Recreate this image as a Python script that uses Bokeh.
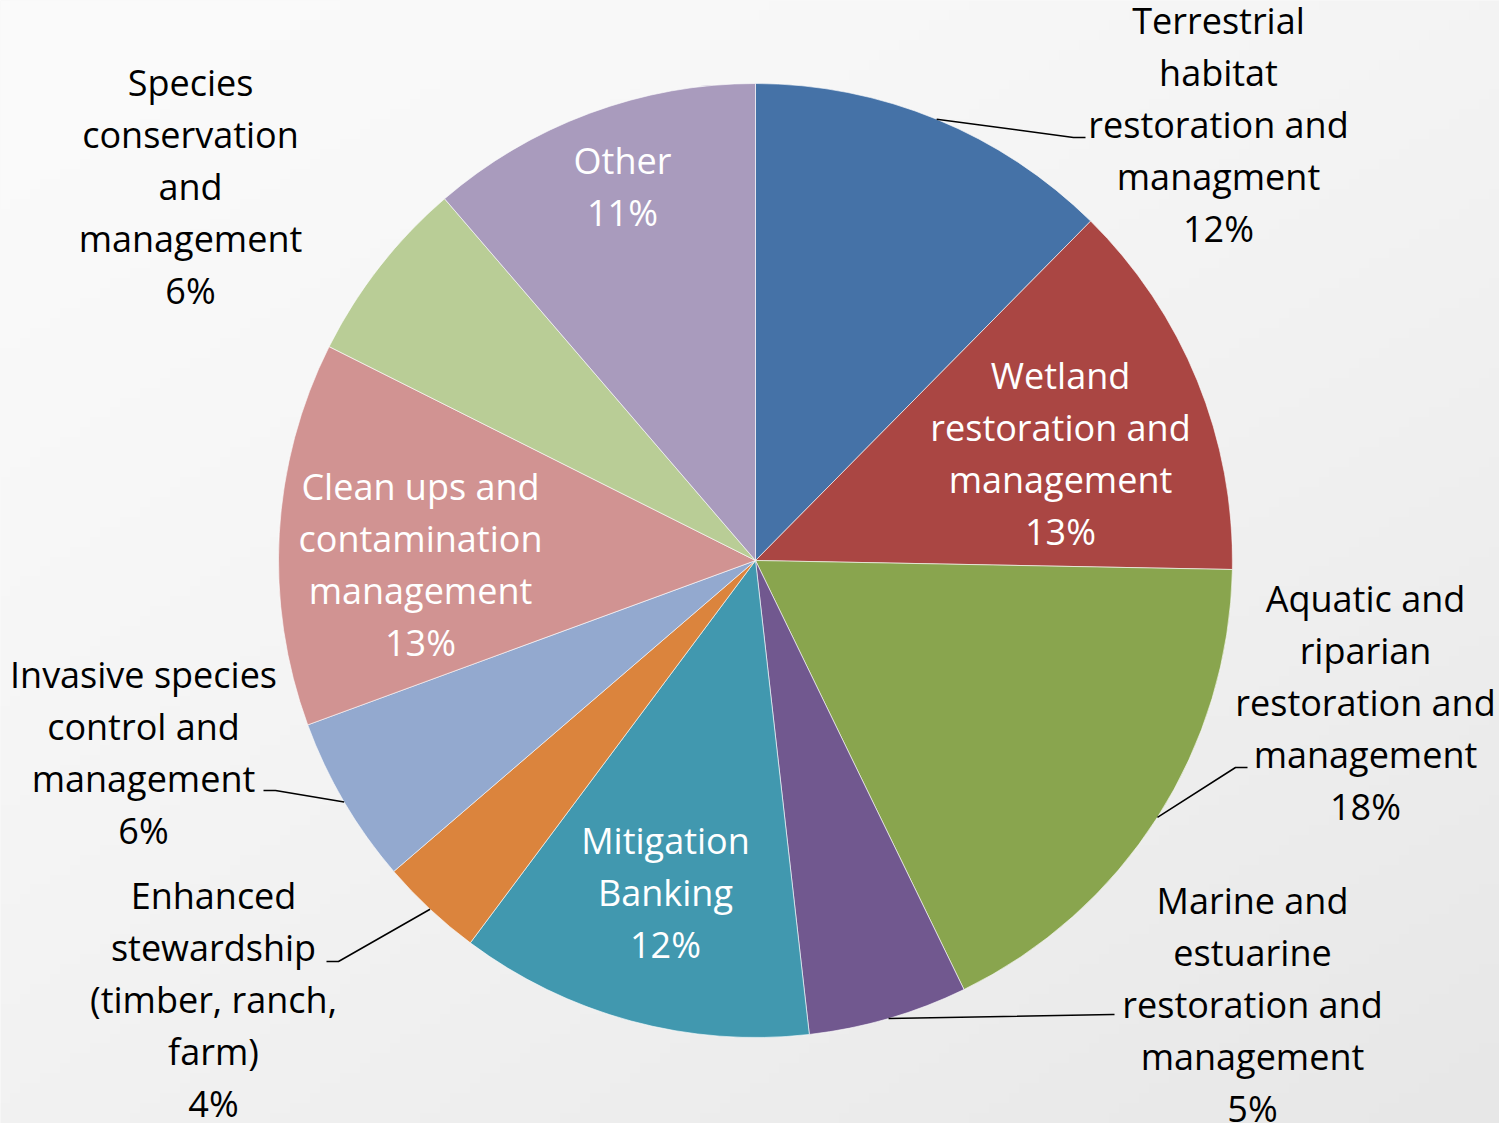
import numpy as np
from bokeh.plotting import figure
from bokeh.models import Range1d
from bokeh.embed import file_html
from bokeh.resources import INLINE
from bokeh.core.properties import value

# ---- data ----
categories = [
    "Terrestrial habitat restoration and managment",
    "Wetland restoration and management",
    "Aquatic and riparian restoration and management",
    "Marine and estuarine restoration and management",
    "Mitigation Banking",
    "Enhanced stewardship (timber, ranch, farm)",
    "Invasive species control and management",
    "Clean ups and contamination management",
    "Species conservation and management",
    "Other",
]
shares = [12.4, 12.9, 17.5, 5.4, 12.0, 3.5, 5.7, 13.0, 6.3, 11.3]
pct_labels = ["12%", "13%", "18%", "5%", "12%", "4%", "6%", "13%", "6%", "11%"]
label_lines = [
    ["Terrestrial", "habitat", "restoration and", "managment"],
    ["Wetland", "restoration and", "management"],
    ["Aquatic and", "riparian", "restoration and", "management"],
    ["Marine and", "estuarine", "restoration and", "management"],
    ["Mitigation", "Banking"],
    ["Enhanced", "stewardship", "(timber, ranch,", "farm)"],
    ["Invasive species", "control and", "management"],
    ["Clean ups and", "contamination", "management"],
    ["Species", "conservation", "and", "management"],
    ["Other"],
]

# ---- styles / layout ----
colors = ["#4572A7", "#AA4643", "#89A54E", "#71588F", "#4198AF",
          "#DB843D", "#93A9CF", "#D19392", "#B9CD96", "#A99BBD"]
inside = [False, True, False, False, True, False, False, True, False, True]
W, H = 1499, 1123
cx, cy, R = 755, H - 560, 477
LINE = 52.1
# label first-line centre (x, y in page pixels from top)
label_pos = [(1218, 20), (1060, 375), (1365, 598), (1252, 900), (665, 840),
             (213, 895), (143, 674), (420, 486), (190, 82), (622, 160)]
# leader elbow (x, y from top) and end x for outside labels
leaders = {0: ((1073, 137), 1085), 2: ((1235, 767), 1247), 3: ((1112, 1014), 1114),
           5: ((338, 961), 326), 6: ((275, 790), 263)}

p = figure(width=W, height=H, output_backend="svg", toolbar_location=None,
           x_range=Range1d(0, W), y_range=Range1d(0, H), min_border=0)
p.axis.visible = False
p.grid.visible = False
p.outline_line_color = None
p.background_fill_color = "#F4F4F4"
p.border_fill_color = "#F4F4F4"

# background gradient: near white at top-left, light grey at bottom-right
gy, gx = np.mgrid[0:113, 0:150]
tt = np.clip(0.45 * gx / 149 + 0.55 * (1 - gy / 112), 0, 1)  # row 0 = bottom
shade = (251 - 20 * tt ** 1.3).astype(np.uint32)
img = (255 << 24) | (shade << 16) | (shade << 8) | shade
p.image_rgba(image=[img.astype(np.uint32)], x=0, y=0, dw=W, dh=H)

vals = np.array(shares, dtype=float)
frac = vals / vals.sum()
cum = np.concatenate([[0], np.cumsum(frac)])
start = np.pi / 2 - cum[1:] * 2 * np.pi
end = np.pi / 2 - cum[:-1] * 2 * np.pi
p.wedge(x=[cx] * len(vals), y=[cy] * len(vals), radius=R,
        start_angle=list(start), end_angle=list(end),
        fill_color=colors, line_color="white", line_width=0.6)

font = value("Open Sans")
tx, ty, tt_, tc = [], [], [], []
for i, lines in enumerate(label_lines):
    lx, ly = label_pos[i]
    for k, s in enumerate(lines + [pct_labels[i]]):
        tx.append(lx)
        ty.append(H - (ly + k * LINE))
        tt_.append(s)
        tc.append("white" if inside[i] else "black")
    if i in leaders:
        mid = (start[i] + end[i]) / 2
        sx, sy = cx + R * np.cos(mid), cy + R * np.sin(mid)
        (ex, ey), fx = leaders[i]
        p.line(x=[sx, ex, fx], y=[sy, H - ey, H - ey], line_color="black", line_width=1.5)

p.text(x=tx, y=ty, text=tt_, text_font=font, text_font_size="36px",
       text_align="center", text_baseline="middle", text_color=tc)

open("out.html", "w").write(file_html(p, INLINE))
